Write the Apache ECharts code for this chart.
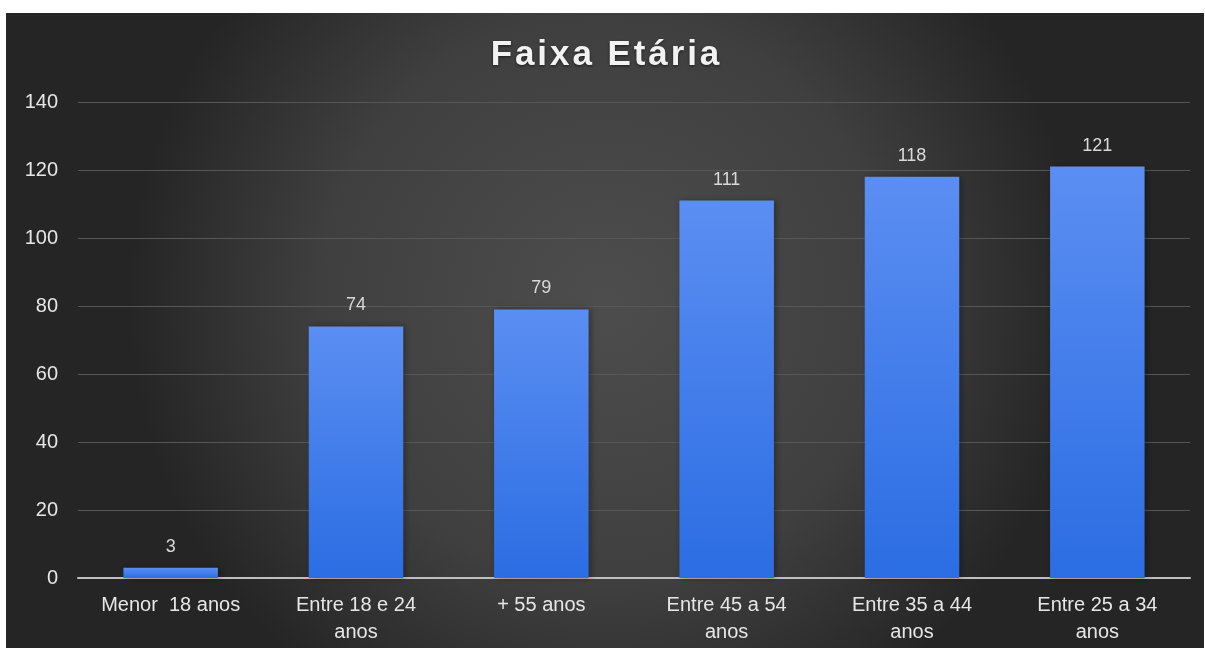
<!DOCTYPE html>
<html>
<head>
<meta charset="utf-8">
<style>
  html, body { margin: 0; padding: 0; background: #ffffff; }
  #chart { position: absolute; left: 6px; top: 13px; width: 1198px; height: 635px; }
</style>
<script src="https://cdn.jsdelivr.net/npm/echarts@6/dist/echarts.min.js"></script>
</head>
<body>
<div id="chart"></div>
<script>
// Age brackets and respondent counts
const chartTitle = 'Faixa Etária';
const categories = ['Menor  18 anos', 'Entre 18 e 24\nanos', '+ 55 anos', 'Entre 45 a 54\nanos', 'Entre 35 a 44\nanos', 'Entre 25 a 34\nanos'];
const counts = [3, 74, 79, 111, 118, 121];
const yTicks = { min: 0, max: 140, interval: 20 };

// spaced-out title lettering
const spacedTitle = chartTitle.split('').join('\u200A');

const font = 'Liberation Sans, Arial, sans-serif';
const chart = echarts.init(document.getElementById('chart'));
chart.setOption({
  backgroundColor: {
    type: 'radial', x: 0.5, y: 0.45, r: 0.75,
    colorStops: [
      { offset: 0, color: '#4d4d4d' },
      { offset: 0.6, color: '#3f3f3f' },
      { offset: 1, color: '#252525' }
    ]
  },
  title: {
    text: spacedTitle,
    left: 'center',
    top: 20,
    textStyle: {
      color: '#f2f2f2', fontFamily: font,
      fontSize: 35, fontWeight: 'bold',
      textShadowColor: 'rgba(0,0,0,0.6)', textShadowBlur: 3, textShadowOffsetY: 1
    }
  },
  grid: { left: 72, right: 14, top: 89, bottom: 70, containLabel: false },
  xAxis: {
    type: 'category',
    data: categories,
    axisLine: { lineStyle: { color: '#bfbfbf', width: 2 } },
    axisTick: { show: false },
    axisLabel: {
      color: '#e6e6e6', fontFamily: font,
      fontSize: 20, lineHeight: 27, margin: 14, interval: 0
    }
  },
  yAxis: {
    type: 'value',
    min: yTicks.min, max: yTicks.max, interval: yTicks.interval,
    axisLine: { show: false },
    axisTick: { show: false },
    axisLabel: {
      color: '#e6e6e6', fontFamily: font,
      fontSize: 20, margin: 20
    },
    splitLine: { lineStyle: { color: '#575757', width: 1 } }
  },
  series: [{
    type: 'bar',
    data: counts,
    barWidth: '51%',
    itemStyle: {
      color: {
        type: 'linear', x: 0, y: 0, x2: 0, y2: 1,
        colorStops: [
          { offset: 0, color: '#5b8ef2' },
          { offset: 1, color: '#2b6de3' }
        ]
      },
      shadowColor: 'rgba(0,0,0,0.35)', shadowBlur: 6, shadowOffsetX: 2
    },
    label: {
      show: true, position: 'top', distance: 12,
      color: '#d9d9d9', fontFamily: font, fontSize: 18
    }
  }]
});
</script>
</body>
</html>
